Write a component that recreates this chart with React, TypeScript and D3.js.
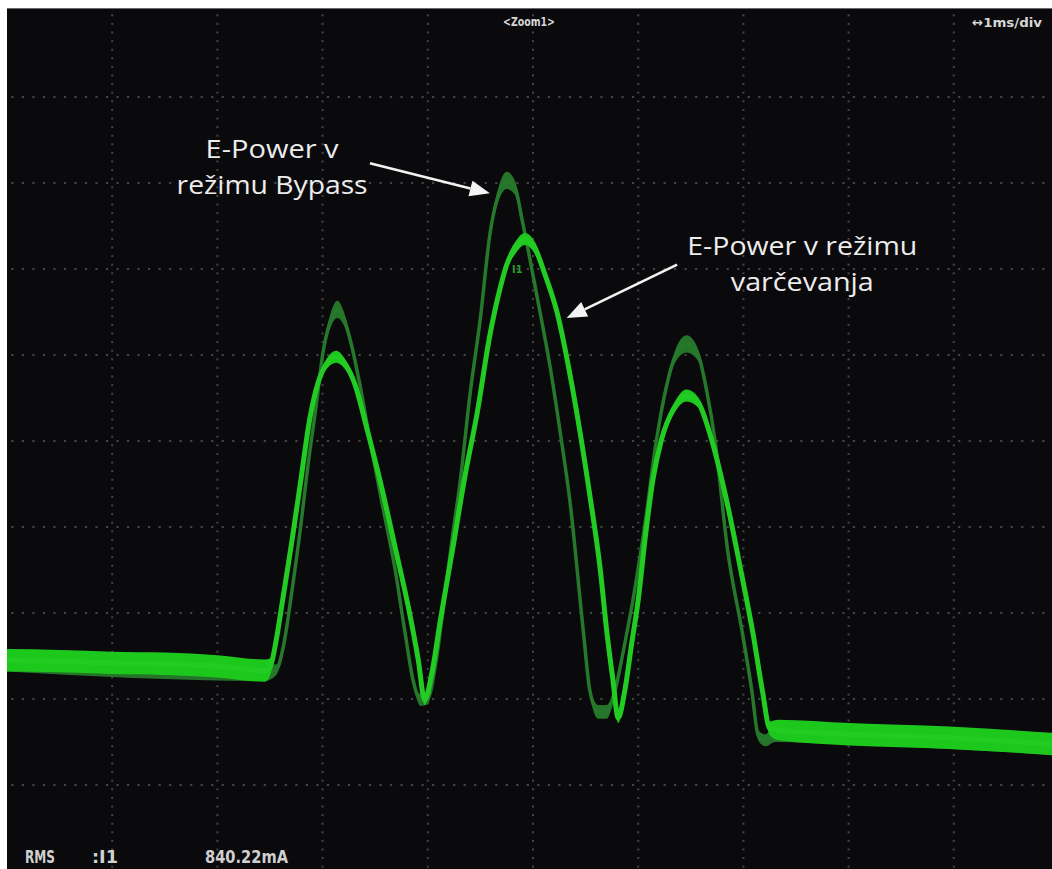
import React from "react";
import * as d3 from "d3";

const W = 1052;
const H = 869;

// Time axis: 10 divisions at 1 ms/div; amplitude axis: 10 divisions (centre = 0)
const timeDomain: [number, number] = [0, 10];
const ampDomain: [number, number] = [-5, 5];
const hGridLines = [-4, -3, -2, -1, 0, 1, 2, 3, 4];
const vGridLines = [1, 2, 3, 4, 5, 6, 7, 8, 9];

type Pt = [number, number, number]; // [time ms, amplitude div, noise half-band div]

// E-Power v režimu varčevanja (bright trace)
const savingTrace: Pt[] = [
  [0.0, -2.55, 0.13], [0.5, -2.56, 0.13], [1.0, -2.58, 0.13], [1.5, -2.59, 0.13],
  [2.0, -2.62, 0.13], [2.45, -2.67, 0.13], [2.5, -2.63, 0.1], [2.56, -2.31, 0.05],
  [2.62, -1.85, 0.04], [2.71, -1.15, 0.04], [2.79, -0.48, 0.04], [2.88, 0.27, 0.04],
  [2.96, 0.69, 0.05], [3.04, 0.9, 0.06], [3.13, 0.98, 0.07], [3.21, 0.9, 0.06],
  [3.31, 0.65, 0.05], [3.42, 0.15, 0.04], [3.55, -0.48, 0.04], [3.69, -1.24, 0.04],
  [3.83, -2.02, 0.04], [3.91, -2.55, 0.05], [3.97, -3.01, 0.06], [4.04, -2.69, 0.05],
  [4.12, -2.08, 0.04], [4.24, -1.23, 0.04], [4.35, -0.43, 0.04], [4.47, 0.33, 0.04],
  [4.59, 1.23, 0.04], [4.69, 1.79, 0.05], [4.75, 2.05, 0.06], [4.84, 2.26, 0.07],
  [4.92, 2.35, 0.07], [5.02, 2.24, 0.07], [5.11, 1.95, 0.06], [5.23, 1.49, 0.05],
  [5.37, 0.65, 0.04], [5.54, -0.63, 0.04], [5.64, -1.5, 0.04], [5.7, -2.2, 0.04],
  [5.76, -2.78, 0.05], [5.81, -3.22, 0.06], [5.87, -2.92, 0.05], [5.94, -2.34, 0.04],
  [6.0, -1.85, 0.04], [6.07, -1.09, 0.04], [6.14, -0.45, 0.04], [6.22, 0.01, 0.05],
  [6.34, 0.38, 0.06], [6.46, 0.53, 0.07], [6.57, 0.45, 0.06], [6.68, 0.09, 0.05],
  [6.84, -0.69, 0.04], [6.97, -1.47, 0.04], [7.09, -2.23, 0.04], [7.18, -2.9, 0.05],
  [7.25, -3.34, 0.08], [7.33, -3.36, 0.12], [8.01, -3.41, 0.13], [8.96, -3.45, 0.13],
  [10.0, -3.53, 0.13],
];

// E-Power v režimu Bypass (dark trace)
const bypassTrace: Pt[] = [
  [0.0, -2.58, 0.1], [2.45, -2.69, 0.1], [2.56, -2.66, 0.06], [2.63, -2.37, 0.03],
  [2.71, -1.73, 0.025], [2.79, -1.01, 0.025], [2.86, -0.29, 0.025], [2.94, 0.42, 0.03],
  [3.0, 1.0, 0.05], [3.07, 1.38, 0.08], [3.14, 1.53, 0.1], [3.2, 1.43, 0.08],
  [3.27, 1.14, 0.05], [3.36, 0.62, 0.03], [3.45, 0.01, 0.025], [3.56, -0.69, 0.025],
  [3.69, -1.5, 0.025], [3.78, -2.2, 0.03], [3.86, -2.78, 0.04], [3.93, -3.01, 0.07],
  [4.0, -2.99, 0.07], [4.08, -2.55, 0.04], [4.15, -1.91, 0.025], [4.23, -1.15, 0.025],
  [4.31, -0.45, 0.025], [4.4, 0.53, 0.025], [4.5, 1.43, 0.03], [4.59, 2.4, 0.05],
  [4.67, 2.86, 0.08], [4.75, 3.03, 0.1], [4.83, 2.94, 0.08], [4.9, 2.55, 0.05],
  [5.04, 1.67, 0.025], [5.16, 0.88, 0.025], [5.26, 0.09, 0.025], [5.35, -0.69, 0.025],
  [5.48, -2.23, 0.03], [5.54, -2.9, 0.05], [5.62, -3.15, 0.08], [5.7, -3.15, 0.08],
  [5.78, -2.9, 0.05], [5.87, -2.37, 0.03], [5.95, -1.85, 0.025], [6.07, -0.92, 0.025],
  [6.16, -0.1, 0.025], [6.25, 0.53, 0.04], [6.35, 0.98, 0.07], [6.46, 1.13, 0.1],
  [6.57, 1.0, 0.07], [6.65, 0.59, 0.04], [6.73, 0.01, 0.025], [6.85, -1.27, 0.025],
  [6.99, -2.23, 0.03], [7.08, -2.9, 0.04], [7.14, -3.42, 0.06], [7.21, -3.48, 0.07],
  [7.3, -3.4, 0.1], [8.01, -3.43, 0.1], [10.0, -3.55, 0.1],
];

// Annotations (positions in time/amplitude divisions)
const bypassLabel = ["E-Power v", "režimu Bypass"];
const bypassLabelPos: [number, number] = [2.52, 3.29];
const bypassLabelWidths = [133, 191];
const bypassArrow: [number, number, number, number] = [3.45, 3.23, 4.59, 2.88];

const savingLabel = ["E-Power v režimu", "varčevanja"];
const savingLabelPos: [number, number] = [7.56, 2.16];
const savingLabelWidths = [230, 143];
const savingArrow: [number, number, number, number] = [6.37, 2.05, 5.32, 1.43];

const zoomLabel = "<Zoom1>";
const timebaseLabel = "↔1ms/div";
const rmsLabels = ["RMS", ":I1", "840.22mA"];

export default function App() {
  const x = d3.scaleLinear().domain(timeDomain).range([7, 1059]);
  const y = d3.scaleLinear().domain(ampDomain).range([871, 11]);

  const area = d3
    .area<Pt>()
    .x((d) => x(d[0]))
    .y0((d) => y(d[1] - d[2]))
    .y1((d) => y(d[1] + d[2]))
    .curve(d3.curveMonotoneX);
  const line = d3
    .line<Pt>()
    .x((d) => x(d[0]))
    .y((d) => y(d[1]))
    .curve(d3.curveMonotoneX);

  const dots: JSX.Element[] = [];
  hGridLines.forEach((v) => {
    d3.range(0, 100).forEach((i) => {
      const t = i * 0.1 + 0.05;
      dots.push(
        <rect key={`h${v}_${i}`} x={x(t) - 1} y={y(v) - 1} width={2.2} height={2} fill="#454545" />
      );
    });
  });
  vGridLines.forEach((t) => {
    d3.range(0, 100).forEach((i) => {
      const v = -5 + i * 0.1 + 0.05;
      dots.push(
        <rect key={`v${t}_${i}`} x={x(t) - 1} y={y(v) - 1} width={2} height={2} fill="#454545" />
      );
    });
  });

  const arrow = (a: [number, number, number, number], key: string) => {
    const x1 = x(a[0]), y1 = y(a[1]), x2 = x(a[2]), y2 = y(a[3]);
    const dx = x2 - x1, dy = y2 - y1;
    const len = Math.hypot(dx, dy);
    const ux = dx / len, uy = dy / len;
    const hl = 20, hw = 8;
    const bx = x2 - ux * hl, by = y2 - uy * hl;
    const pts = [
      [x2, y2],
      [bx - uy * hw, by + ux * hw],
      [bx + uy * hw, by - ux * hw],
    ];
    return (
      <g key={key}>
        <line x1={x1} y1={y1} x2={bx} y2={by} stroke="#f2f2f2" strokeWidth={2.6} />
        <polygon points={pts.map((p) => p.join(",")).join(" ")} fill="#f4f4f4" />
      </g>
    );
  };

  const label = (lines: string[], pos: [number, number], widths: number[], key: string) => (
    <g key={key}>
      {lines.map((s, i) => (
        <text
          key={i}
          x={x(pos[0])}
          y={y(pos[1]) + i * 36}
          textAnchor="middle"
          fontFamily="'Open Sans', sans-serif"
          fontSize={25}
          fill="#ececec"
          textLength={widths[i]}
          lengthAdjust="spacingAndGlyphs"
        >
          {s}
        </text>
      ))}
    </g>
  );

  const scopeFont = "'DejaVu Sans Condensed', 'DejaVu Sans', sans-serif";

  return (
    <div style={{ position: "fixed", left: 0, top: 0, width: W, height: H, overflow: "hidden" }}>
      <svg width={W} height={H} style={{ display: "block" }}>
        <defs>
          <filter id="soft" x="-5%" y="-5%" width="110%" height="110%">
            <feGaussianBlur stdDeviation={0.7} />
          </filter>
        </defs>
        <rect x={0} y={0} width={W} height={H} fill="#ffffff" />
        <rect x={7} y={8} width={W - 7} height={2} fill="#6a6a6a" />
        <rect x={7} y={9} width={W - 7} height={H - 9} fill="#0a090c" />
        <g>{dots}</g>

        <g filter="url(#soft)">
          <path d={area(bypassTrace) || ""} fill="#267a2b" opacity={0.95} />
          <path d={line(bypassTrace) || ""} fill="none" stroke="#26782a" strokeWidth={3.5} />
          <path d={area(savingTrace) || ""} fill="#1fc81f" />
          <path d={line(savingTrace) || ""} fill="none" stroke="#22cc22" strokeWidth={5} />
        </g>

        <text x={x(4.8)} y={y(1.95)} fontFamily={scopeFont} fontWeight="bold" fontSize={11} fill="#2a9a2a">
          I1
        </text>

        {arrow(bypassArrow, "a1")}
        {arrow(savingArrow, "a2")}
        {label(bypassLabel, bypassLabelPos, bypassLabelWidths, "l1")}
        {label(savingLabel, savingLabelPos, savingLabelWidths, "l2")}

        <text x={503} y={26} fontFamily={scopeFont} fontWeight="bold" fontSize={12} fill="#d6d6d6" textLength={52} lengthAdjust="spacingAndGlyphs">
          {zoomLabel}
        </text>
        <text x={972} y={27} fontFamily={scopeFont} fontWeight="bold" fontSize={13} fill="#d6d6d6" textLength={70} lengthAdjust="spacingAndGlyphs">
          {timebaseLabel}
        </text>
        <text x={25} y={863} fontFamily={scopeFont} fontWeight="bold" fontSize={18} fill="#d0d0d0" textLength={30} lengthAdjust="spacingAndGlyphs">
          {rmsLabels[0]}
        </text>
        <text x={92} y={863} fontFamily={scopeFont} fontWeight="bold" fontSize={18} fill="#d0d0d0" textLength={26} lengthAdjust="spacingAndGlyphs">
          {rmsLabels[1]}
        </text>
        <text x={205} y={863} fontFamily={scopeFont} fontWeight="bold" fontSize={18} fill="#d0d0d0" textLength={83} lengthAdjust="spacingAndGlyphs">
          {rmsLabels[2]}
        </text>
      </svg>
    </div>
  );
}
